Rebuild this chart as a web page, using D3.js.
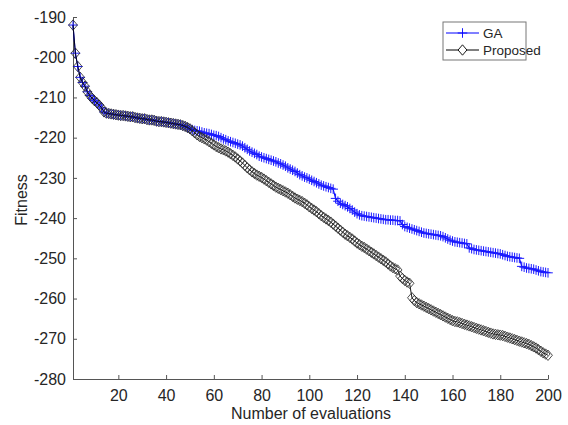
<!DOCTYPE html>
<html>
<head>
<meta charset="utf-8">
<script src="https://cdn.jsdelivr.net/npm/d3@7"></script>
<style>
  body { margin: 0; background: #fff; }
  svg { display: block; font-family: "Liberation Sans", Arial, sans-serif; }
</style>
</head>
<body>
<svg id="chart" width="568" height="425"></svg>
<script>
// best fitness per evaluation
const gaValues = [
  -192.0, -199.0, -202.3, -205.0, -206.3, -207.2, -208.6, -209.5, -210.2, -210.8,
  -211.3, -211.9, -212.6, -213.6, -213.9, -214.0, -214.1, -214.2, -214.3, -214.4,
  -214.5, -214.5, -214.6, -214.7, -214.8, -214.8, -215.0, -215.1, -215.2, -215.3,
  -215.3, -215.5, -215.6, -215.6, -215.7, -215.9, -216.0, -216.0, -216.1, -216.2,
  -216.3, -216.4, -216.5, -216.6, -216.7, -216.8, -217.0, -217.2, -217.5, -217.8,
  -218.0, -218.2, -218.3, -218.4, -218.6, -218.8, -218.9, -219.0, -219.2, -219.4,
  -219.5, -219.7, -220.0, -220.3, -220.5, -220.8, -221.0, -221.2, -221.4, -221.6,
  -221.8, -222.1, -222.5, -222.9, -223.3, -223.6, -223.9, -224.2, -224.6, -224.8,
  -225.0, -225.2, -225.4, -225.6, -225.8, -226.0, -226.3, -226.5, -226.8, -227.1,
  -227.5, -227.8, -228.1, -228.4, -228.8, -229.2, -229.5, -229.8, -230.0, -230.3,
  -230.6, -230.9, -231.2, -231.5, -231.8, -232.0, -232.2, -232.4, -232.6, -232.8,
  -235.1, -235.8, -236.3, -236.6, -236.9, -237.2, -237.6, -238.0, -238.5, -238.9,
  -239.2, -239.4, -239.5, -239.6, -239.7, -239.8, -239.9, -240.0, -240.1, -240.2,
  -240.3, -240.4, -240.4, -240.5, -240.5, -240.6, -240.6, -240.7, -241.6, -242.1,
  -242.3, -242.5, -242.7, -242.9, -243.1, -243.3, -243.5, -243.7, -243.8, -243.9,
  -244.0, -244.1, -244.2, -244.3, -244.4, -244.6, -244.9, -245.2, -245.5, -245.7,
  -245.9, -246.0, -246.1, -246.2, -246.3, -246.4, -247.4, -247.6, -247.8, -247.9,
  -248.0, -248.1, -248.2, -248.3, -248.4, -248.5, -248.6, -248.7, -248.8, -248.9,
  -249.1, -249.3, -249.5, -249.6, -249.7, -249.8, -249.9, -250.0, -252.0, -252.2,
  -252.4, -252.5, -252.6, -252.7, -252.9, -253.1, -253.3, -253.4, -253.5, -253.6
];

const proposedValues = [
  -192.0, -199.0, -202.3, -205.0, -206.3, -207.2, -208.6, -209.5, -210.2, -210.8,
  -211.3, -211.9, -212.6, -213.6, -213.9, -214.0, -214.1, -214.2, -214.3, -214.4,
  -214.5, -214.5, -214.6, -214.7, -214.8, -214.8, -215.0, -215.1, -215.2, -215.3,
  -215.3, -215.5, -215.6, -215.6, -215.7, -215.9, -216.0, -216.0, -216.1, -216.2,
  -216.3, -216.4, -216.5, -216.6, -216.7, -216.8, -217.0, -217.2, -217.5, -217.8,
  -218.3, -218.8, -219.3, -219.7, -220.0, -220.3, -220.6, -221.0, -221.4, -221.8,
  -222.2, -222.5, -222.8, -223.0, -223.3, -223.6, -224.0, -224.4, -224.8, -225.3,
  -225.8, -226.3, -226.9, -227.5, -228.0, -228.5, -228.9, -229.3, -229.6, -229.9,
  -230.3, -230.7, -231.1, -231.5, -231.9, -232.3, -232.6, -232.9, -233.2, -233.5,
  -233.8, -234.2, -234.6, -235.0, -235.3, -235.6, -235.9, -236.3, -236.7, -237.2,
  -237.6, -238.0, -238.4, -238.9, -239.4, -239.8, -240.2, -240.6, -241.0, -241.5,
  -242.0, -242.5, -243.0, -243.5, -244.0, -244.4, -244.8, -245.2, -245.7, -246.2,
  -246.6, -247.0, -247.3, -247.7, -248.1, -248.5, -248.9, -249.3, -249.7, -250.1,
  -250.5, -250.9, -251.4, -251.9, -252.3, -252.6, -252.9, -254.4, -255.0, -255.5,
  -255.9, -256.2, -259.8, -260.5, -261.0, -261.3, -261.6, -261.9, -262.2, -262.5,
  -262.8, -263.1, -263.4, -263.7, -264.0, -264.3, -264.6, -264.9, -265.2, -265.5,
  -265.7, -265.8, -266.0, -266.2, -266.4, -266.6, -266.8, -267.0, -267.2, -267.4,
  -267.6, -267.8, -268.0, -268.2, -268.4, -268.6, -268.8, -268.9, -269.0, -269.1,
  -269.2, -269.4, -269.6, -269.8, -270.0, -270.2, -270.4, -270.6, -270.8, -271.0,
  -271.2, -271.4, -271.7, -272.0, -272.3, -272.7, -273.1, -273.5, -273.8, -274.1
];

const seriesNames = ["GA", "Proposed"];
const xTicks = [20, 40, 60, 80, 100, 120, 140, 160, 180, 200];
const yTicks = [-280, -270, -260, -250, -240, -230, -220, -210, -200, -190];

const svg = d3.select("#chart");
const axisColor = "#555";
const textColor = "#262626";

const x = d3.scaleLinear().domain([1, 200]).range([73, 548]);
const y = d3.scaleLinear().domain([-280, -190]).range([379, 17]);

// axes (MATLAB style: ticks pointing inward, no box)
const xAxis = svg.append("g")
  .attr("transform", "translate(0,379)")
  .call(d3.axisBottom(x).tickValues(xTicks).tickFormat(d => String(d))
    .tickSizeInner(-4).tickSizeOuter(0).tickPadding(11));
const yAxis = svg.append("g")
  .attr("transform", "translate(73,0)")
  .call(d3.axisLeft(y).tickValues(yTicks).tickFormat(d => String(d))
    .tickSizeInner(-4).tickSizeOuter(0).tickPadding(7));

[xAxis, yAxis].forEach(g => {
  g.select(".domain").attr("stroke", axisColor).attr("stroke-width", 1);
  g.selectAll(".tick line").attr("stroke", axisColor);
  g.selectAll(".tick text")
    .attr("fill", textColor)
    .style("font-size", "16px")
    .style("font-family", "'Liberation Sans', Arial, sans-serif");
});

svg.append("text")
  .attr("x", 311).attr("y", 419)
  .attr("text-anchor", "middle")
  .attr("fill", textColor)
  .style("font-size", "16px")
  .text("Number of evaluations");

svg.append("text")
  .attr("transform", "translate(27,200) rotate(-90)")
  .attr("text-anchor", "middle")
  .attr("fill", textColor)
  .style("font-size", "16px")
  .text("Fitness");

const plusPath = "M-4.8,0H4.8M0,-4.8V4.8";
const diamondPath = "M0,-5.2L4.4,0L0,5.2L-4.4,0Z";

const line = d3.line()
  .x((d, i) => x(i + 1))
  .y(d => y(d));

// GA
svg.append("path")
  .datum(gaValues)
  .attr("fill", "none")
  .attr("stroke", "#0000ff")
  .attr("stroke-width", 1.1)
  .attr("d", line);

svg.append("g")
  .selectAll("path")
  .data(gaValues)
  .join("path")
  .attr("transform", (d, i) => "translate(" + x(i + 1) + "," + y(d) + ")")
  .attr("d", plusPath)
  .attr("stroke", "#1a1aff")
  .attr("stroke-width", 1)
  .attr("fill", "none");

// Proposed
svg.append("path")
  .datum(proposedValues)
  .attr("fill", "none")
  .attr("stroke", "#000")
  .attr("stroke-width", 0.9)
  .attr("d", line);

svg.append("g")
  .selectAll("path")
  .data(proposedValues)
  .join("path")
  .attr("transform", (d, i) => "translate(" + x(i + 1) + "," + y(d) + ")")
  .attr("d", diamondPath)
  .attr("stroke", "#222")
  .attr("stroke-width", 0.8)
  .attr("fill", "none");

// legend
const legend = svg.append("g").attr("transform", "translate(443,22)");
legend.append("rect")
  .attr("width", 83).attr("height", 38)
  .attr("fill", "#fff")
  .attr("stroke", "#777")
  .attr("stroke-width", 1);

const legendStyles = [
  { color: "#0000ff", marker: plusPath },
  { color: "#000", marker: diamondPath }
];

seriesNames.forEach((name, i) => {
  const row = legend.append("g").attr("transform", "translate(0," + (11 + i * 17) + ")");
  row.append("line")
    .attr("x1", 3).attr("x2", 36)
    .attr("stroke", legendStyles[i].color)
    .attr("stroke-width", 1);
  row.append("path")
    .attr("transform", "translate(19.5,0)")
    .attr("d", legendStyles[i].marker)
    .attr("stroke", legendStyles[i].color)
    .attr("fill", "#fff")
    .attr("stroke-width", 0.9);
  row.append("text")
    .attr("x", 40).attr("y", 0)
    .attr("dy", "0.35em")
    .attr("fill", textColor)
    .style("font-size", "13.5px")
    .text(name);
});
</script>
</body>
</html>
